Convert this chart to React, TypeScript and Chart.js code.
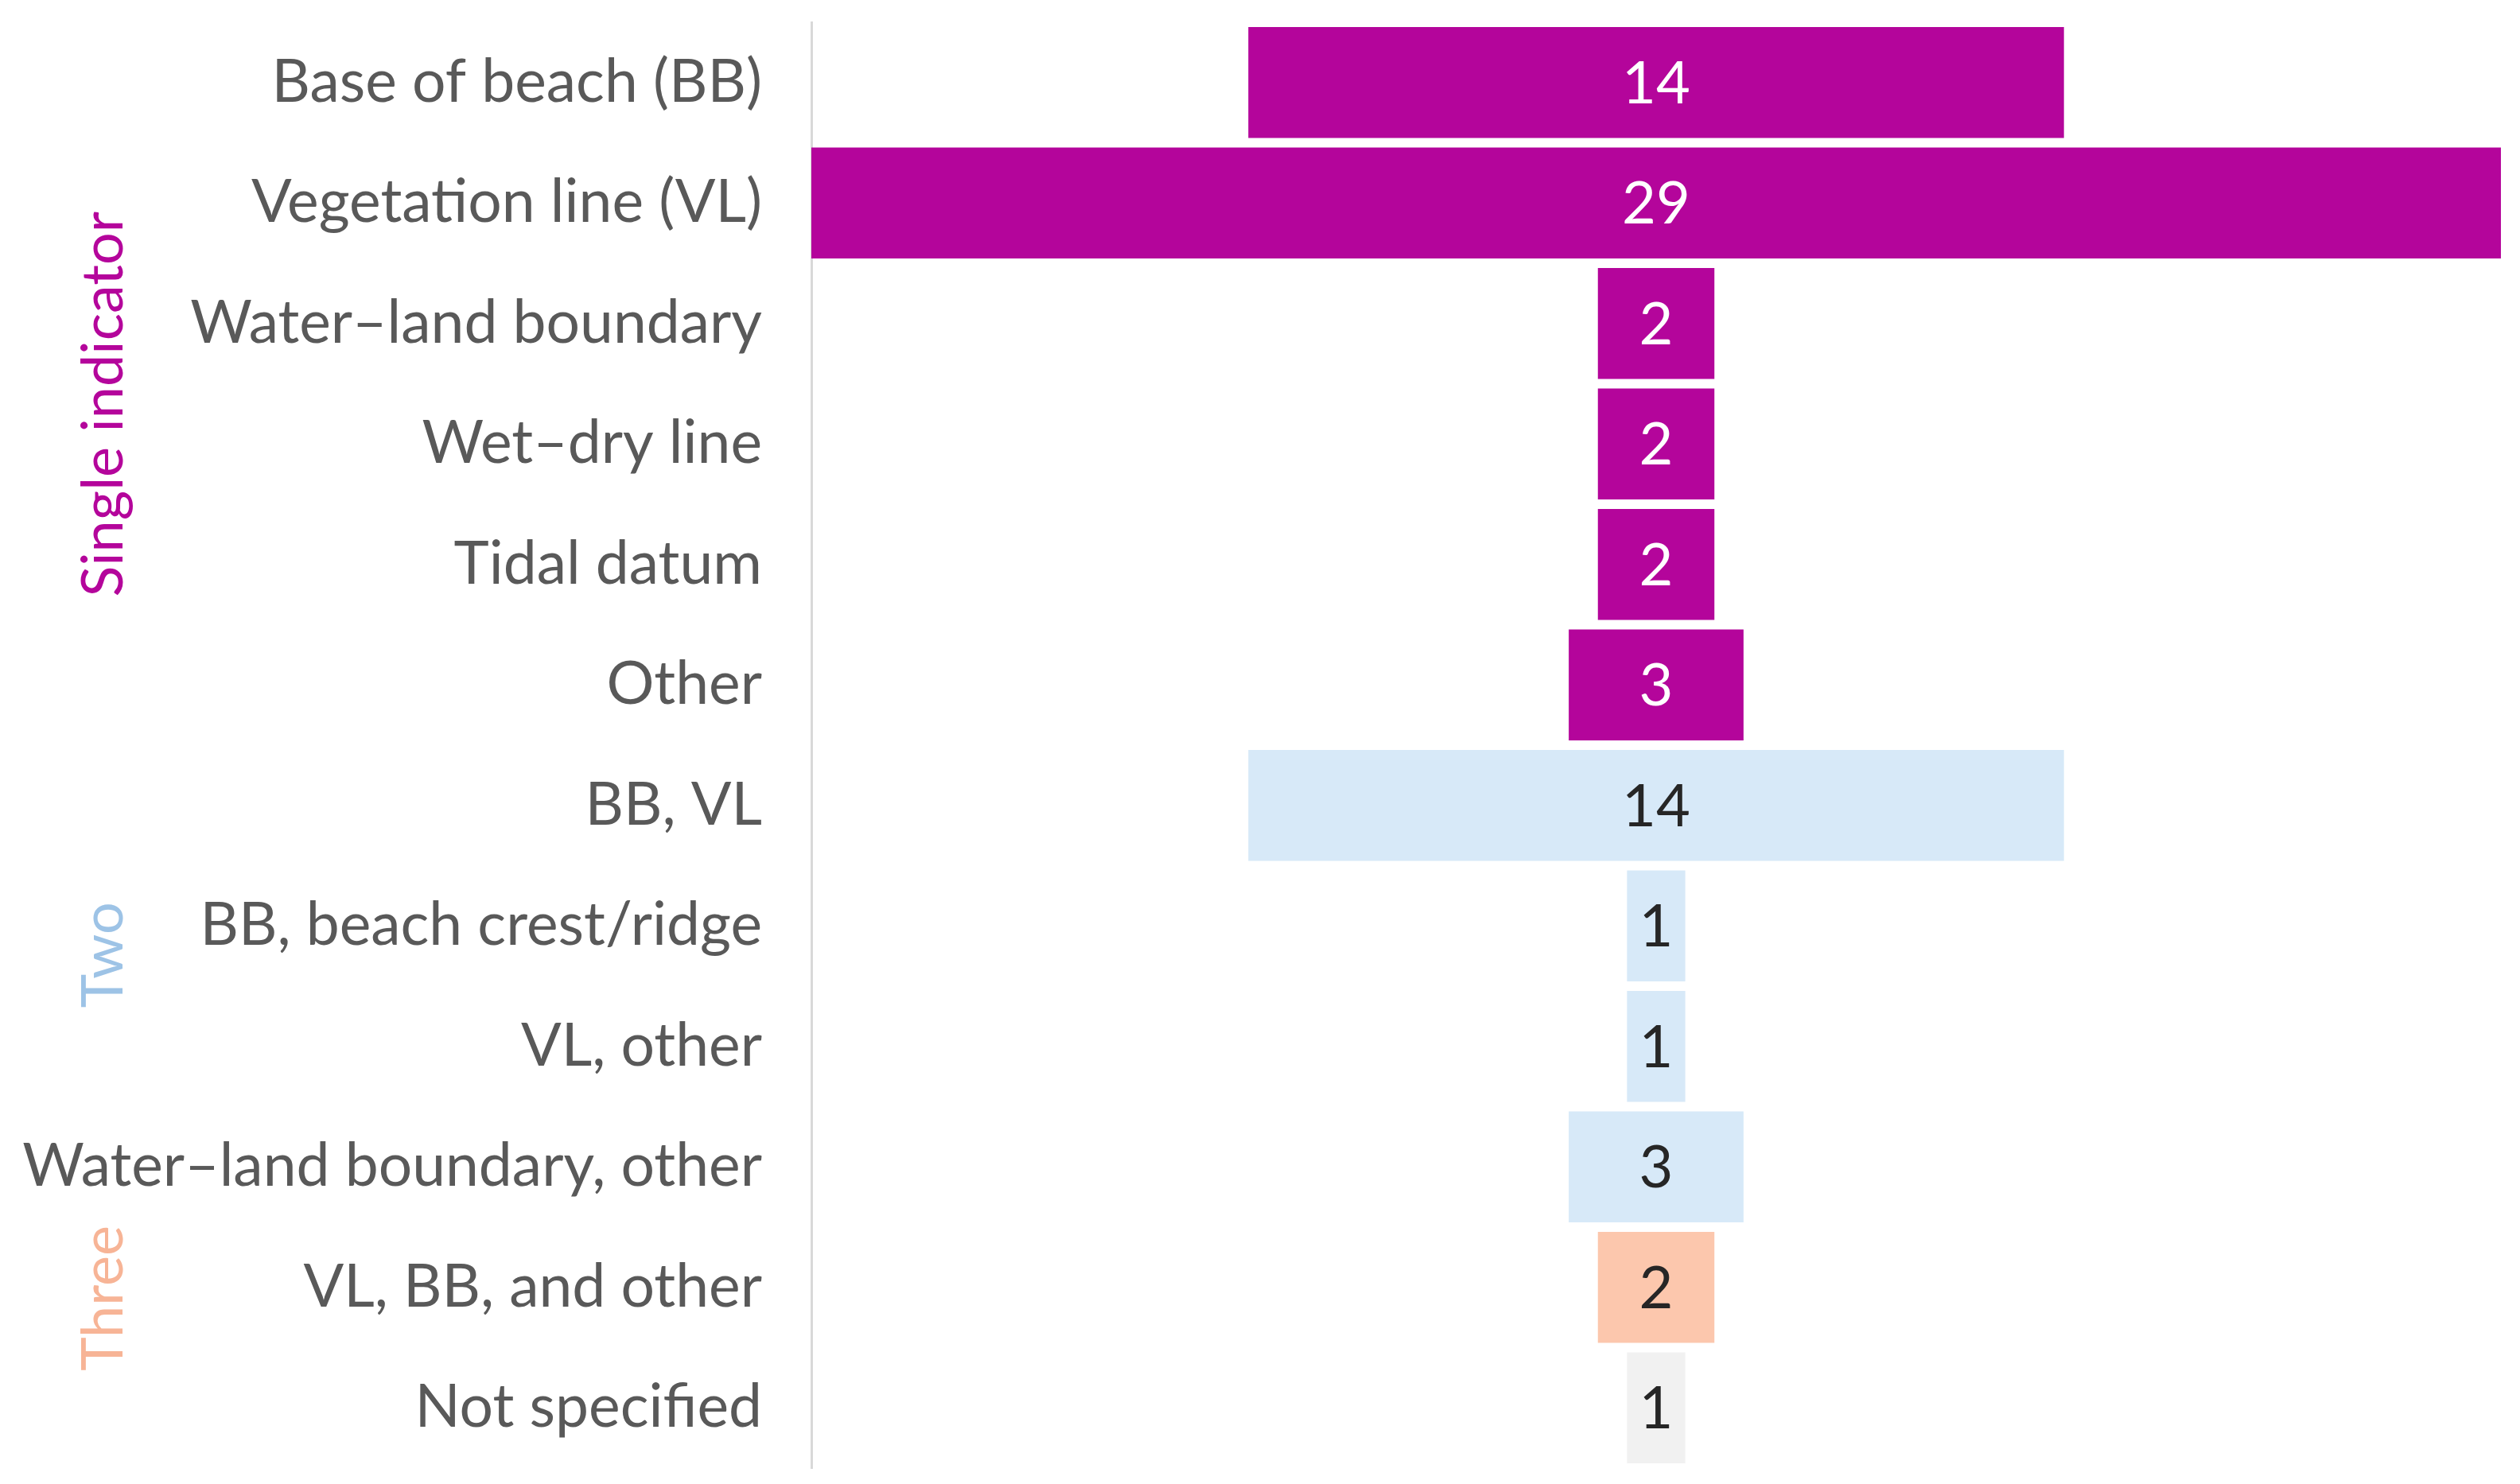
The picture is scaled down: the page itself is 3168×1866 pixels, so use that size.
import React, { useEffect, useRef } from "react";
import { Chart, registerables } from "chart.js";

Chart.register(...registerables);

const categories = [
  "Base of beach (BB)",
  "Vegetation line (VL)",
  "Water\u2013land boundary",
  "Wet\u2013dry line",
  "Tidal datum",
  "Other",
  "BB, VL",
  "BB, beach crest/ridge",
  "VL, other",
  "Water\u2013land boundary, other",
  "VL, BB, and other",
  "Not specified",
];
const values = [14, 29, 2, 2, 2, 3, 14, 1, 1, 3, 2, 1];
const groupOfRow = [0, 0, 0, 0, 0, 0, 1, 1, 1, 1, 2, 3];
const groupNames = ["Single indicator", "Two", "Three", ""];
const groupLabelPos = [2.67, 7.24, 10.09, 11];
const groupBarColors = ["#B4059B", "#D7E9F8", "#FCC7AD", "#F1F1F1"];
const groupTextColors = ["#B4059B", "#9DC3E6", "#F7B496", "#FFFFFF"];
const groupValueColors = ["#FFFFFF", "#262626", "#262626", "#262626"];

const FONT = "Lato, 'Open Sans', sans-serif";

export default function App() {
  const ref = useRef<HTMLCanvasElement | null>(null);
  useEffect(() => {
    document.body.style.margin = "0";
    const canvas = ref.current;
    if (!canvas) return;
    const maxV = Math.max(...values);
    const valuePlugin = {
      id: "valueLabels",
      afterDatasetsDraw(chart: any) {
        const ctx = chart.ctx;
        const meta = chart.getDatasetMeta(0);
        ctx.save();
        ctx.font = `74px ${FONT}`;
        ctx.textAlign = "center";
        ctx.textBaseline = "middle";
        meta.data.forEach((bar: any, i: number) => {
          ctx.fillStyle = groupValueColors[groupOfRow[i]];
          ctx.fillText(String(values[i]), (bar.x + bar.base) / 2, bar.y + 2);
        });
        ctx.restore();
      },
      afterDraw(chart: any) {
        const ctx = chart.ctx;
        const yScale = chart.scales.y;
        ctx.save();
        ctx.font = `72px ${FONT}`;
        ctx.textAlign = "center";
        ctx.textBaseline = "middle";
        groupNames.forEach((name, g) => {
          if (!name) return;
          const y = yScale.getPixelForValue(groupLabelPos[g]);
          ctx.save();
          ctx.translate(131, y);
          ctx.rotate(-Math.PI / 2);
          ctx.fillStyle = groupTextColors[g];
          ctx.fillText(name, 0, 0);
          ctx.restore();
        });
        ctx.restore();
      },
    };
    const chart = new Chart(canvas, {
      type: "bar",
      data: {
        labels: categories,
        datasets: [
          {
            data: values.map((v) => [-v / 2, v / 2]) as any,
            backgroundColor: values.map((_, i) => groupBarColors[groupOfRow[i]]),
            borderWidth: 0,
            barPercentage: 0.92,
            categoryPercentage: 1,
          },
        ],
      },
      options: {
        indexAxis: "y",
        animation: false,
        responsive: false,
        maintainAspectRatio: false,
        events: [],
        layout: { padding: { left: 0, right: 24, top: 28, bottom: 20 } },
        plugins: { legend: { display: false }, tooltip: { enabled: false } },
        scales: {
          x: { display: false, min: -maxV / 2, max: maxV / 2 },
          y: {
            grid: { display: false, drawTicks: false },
            border: { display: true, color: "#D9D9D9", width: 3 },
            ticks: {
              font: { family: FONT, size: 75 },
              color: "#595959",
              padding: 62,
            },
            afterFit: (s: any) => {
              s.width = 1020;
              s.paddingTop = 0;
              s.paddingBottom = 0;
            },
          },
        },
      },
      plugins: [valuePlugin],
    });
    return () => chart.destroy();
  }, []);
  return (
    <div style={{ position: "fixed", left: 0, top: 0, width: 3168, height: 1866, background: "#fff" }}>
      <canvas ref={ref} width={3168} height={1866} style={{ width: 3168, height: 1866 }} />
    </div>
  );
}
